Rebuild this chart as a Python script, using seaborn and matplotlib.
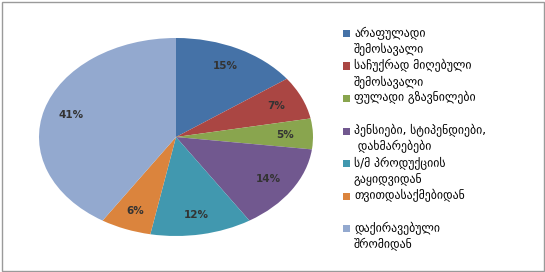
import matplotlib
matplotlib.use("Agg")
import matplotlib.pyplot as plt
import seaborn as sns
from matplotlib.patches import Rectangle

sns.set_theme(style="white")
plt.rcParams['font.family'] = ['DejaVu Sans']

categories = [
    "არაფულადი\nშემოსავალი",
    "საჩუქრად მიღებული\nშემოსავალი",
    "ფულადი გზავნილები",
    "პენსიები, სტიპენდიები,\n დახმარებები",
    "ს/მ პროდუქციის\nგაყიდვიდან",
    "თვითდასაქმებიდან",
    "დაქირავებული\nშრომიდან",
]
values = [15, 7, 5, 14, 12, 6, 41]
colors = ["#4572A7", "#AA4643", "#89A54E", "#71588F", "#4198AF", "#DB843D", "#93A9CF"]

W, H = 545, 272
fig = plt.figure(figsize=(W / 100, H / 100), dpi=100)
fig.patch.set_facecolor("white")

# pie axes (elliptical)
left, right, top, bottom = 39, 313, 38, 236
ax = fig.add_axes([left / W, (H - bottom) / H, (right - left) / W, (bottom - top) / H])
wedges, texts, autotexts = ax.pie(
    values, colors=colors, startangle=90, counterclock=False,
    autopct=lambda p: f"{p:.0f}%", pctdistance=0.8,
    wedgeprops=dict(linewidth=0),
    textprops=dict(fontsize=7.5, color="#333333", fontweight="bold"),
)
ax.set_aspect("auto")
ax.set_xlim(-1, 1)
ax.set_ylim(-1, 1)
ax.axis("off")

# legend
y0, step = 33, 32.5
for i, (lab, col) in enumerate(zip(categories, colors)):
    y = y0 + i * step
    fig.patches.append(Rectangle((343 / W, (H - y - 4) / H), 7 / W, 7 / H,
                                 transform=fig.transFigure, facecolor=col,
                                 edgecolor="none"))
    fig.text(354 / W, (H - y + 6.5) / H, lab, fontsize=8.5, color="#000000",
             va="top", ha="left", linespacing=1.3)

# outer border
fig.patches.append(Rectangle((1.5 / W, 1.5 / H), (W - 3) / W, (H - 3) / H,
                             transform=fig.transFigure, facecolor="none",
                             edgecolor="#9A9A9A", linewidth=1))

fig.savefig("out.png", dpi=100)
